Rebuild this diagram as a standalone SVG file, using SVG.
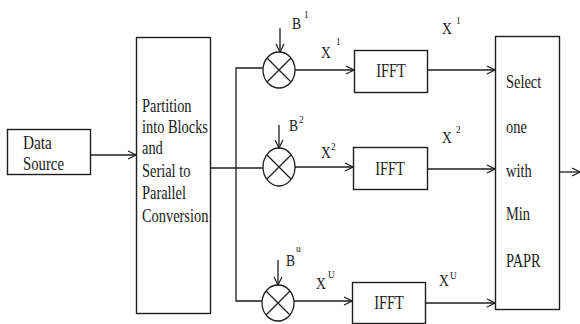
<svg xmlns="http://www.w3.org/2000/svg" width="580" height="324" viewBox="0 0 580 324">
<style>
.box{fill:#fff;stroke:#1e1e1e;stroke-width:1.4}
.ln{fill:none;stroke:#1e1e1e;stroke-width:1.3}
.t{font-family:"Liberation Serif","Times New Roman",serif;font-size:18px;fill:#1a1a1a}
.s{font-family:"Liberation Serif","Times New Roman",serif;font-size:11px;fill:#1a1a1a}
.l{font-family:"Liberation Serif","Times New Roman",serif;font-size:16px;fill:#1a1a1a}
</style>
<defs>
<marker id="a" markerWidth="10" markerHeight="10" refX="9" refY="5" orient="auto" markerUnits="userSpaceOnUse">
<path d="M1,1 L9,5 L1,9" fill="none" stroke="#1e1e1e" stroke-width="1.2"/>
</marker>
</defs>
<rect width="580" height="324" fill="#fff"/>

<g id="connectors">
<line class="ln" x1="91" y1="155" x2="136" y2="155" marker-end="url(#a)"/>
<line class="ln" x1="210" y1="168" x2="263" y2="168"/>
<polyline class="ln" points="263,68 236,68 236,301 262,301"/>
<line class="ln" x1="280" y1="28" x2="280" y2="52" marker-end="url(#a)"/>
<line class="ln" x1="279" y1="125" x2="279" y2="148" marker-end="url(#a)"/>
<line class="ln" x1="278" y1="260" x2="278" y2="285" marker-end="url(#a)"/>
<line class="ln" x1="295" y1="70" x2="354" y2="70" marker-end="url(#a)"/>
<line class="ln" x1="295" y1="167" x2="353" y2="167" marker-end="url(#a)"/>
<line class="ln" x1="294" y1="301" x2="352" y2="301" marker-end="url(#a)"/>
<line class="ln" x1="427" y1="70" x2="495" y2="70" marker-end="url(#a)"/>
<line class="ln" x1="427" y1="169" x2="495" y2="169" marker-end="url(#a)"/>
<line class="ln" x1="425" y1="303" x2="495" y2="303" marker-end="url(#a)"/>
<line class="ln" x1="559" y1="172" x2="580" y2="172" marker-end="url(#a)"/>
</g>

<g id="data-source">
<rect class="box" x="7.5" y="129.5" width="83" height="45"/>
<text class="t" transform="translate(23 149) scale(0.85 1)">Data</text>
<text class="t" transform="translate(23 170) scale(0.82 1)">Source</text>
</g>

<g id="partition">
<rect class="box" x="136.5" y="37.5" width="74" height="276"/>
<text class="t" transform="translate(142 112) scale(0.8 1)">Partition</text>
<text class="t" transform="translate(142 133) scale(0.8 1)">into Blocks</text>
<text class="t" transform="translate(142 154) scale(0.8 1)">and</text>
<text class="t" transform="translate(142 177) scale(0.8 1)">Serial to</text>
<text class="t" transform="translate(142 199) scale(0.8 1)">Parallel</text>
<text class="t" transform="translate(142 222) scale(0.8 1)">Conversion</text>
</g>

<g id="mult1">
<ellipse class="ln" cx="279" cy="70" rx="16" ry="18"/>
<path class="ln" d="M267,58 L291,82 M291,58 L267,82"/>
<text class="l" transform="translate(292 29) scale(0.85 1)">B</text>
<text class="s" transform="translate(304 18) scale(0.85 1)">1</text>
<text class="l" transform="translate(321 58) scale(0.85 1)">X</text>
<text class="s" transform="translate(336 45) scale(0.85 1)">1</text>
</g>

<g id="mult2">
<ellipse class="ln" cx="279" cy="167" rx="16" ry="19"/>
<path class="ln" d="M267,155 L291,179 M291,155 L267,179"/>
<text class="l" transform="translate(289 131) scale(0.85 1)">B</text>
<text class="s" transform="translate(299 123) scale(0.85 1)">2</text>
<text class="l" transform="translate(321 158) scale(0.85 1)">X</text>
<text class="s" transform="translate(331 150) scale(0.85 1)">2</text>
</g>

<g id="multu">
<ellipse class="ln" cx="278" cy="303" rx="16" ry="18"/>
<path class="ln" d="M266,291 L290,315 M290,291 L266,315"/>
<text class="l" transform="translate(286 266) scale(0.85 1)">B</text>
<text class="s" transform="translate(296 252) scale(0.85 1)">u</text>
<text class="l" transform="translate(316 289) scale(0.85 1)">X</text>
<text class="s" transform="translate(328 278) scale(0.85 1)">U</text>
</g>

<g id="ifft1">
<rect class="box" x="354.5" y="50.5" width="73" height="42"/>
<text class="t" text-anchor="middle" transform="translate(391 77) scale(0.8 1)">IFFT</text>
<text class="l" transform="translate(442 34) scale(0.85 1)">X</text>
<text class="s" transform="translate(456 24) scale(0.85 1)">1</text>
</g>

<g id="ifft2">
<rect class="box" x="353.5" y="147.5" width="74" height="42"/>
<text class="t" text-anchor="middle" transform="translate(390 175) scale(0.8 1)">IFFT</text>
<text class="l" transform="translate(442 143) scale(0.85 1)">X</text>
<text class="s" transform="translate(456 133) scale(0.85 1)">2</text>
</g>

<g id="ifftu">
<rect class="box" x="352.5" y="282.5" width="73" height="41"/>
<text class="t" text-anchor="middle" transform="translate(389 309) scale(0.8 1)">IFFT</text>
<text class="l" transform="translate(439 286) scale(0.85 1)">X</text>
<text class="s" transform="translate(450 279) scale(0.85 1)">U</text>
</g>

<g id="select">
<rect class="box" x="495.5" y="36.5" width="64" height="273"/>
<text class="t" transform="translate(506 88) scale(0.8 1)">Select</text>
<text class="t" transform="translate(506 133) scale(0.8 1)">one</text>
<text class="t" transform="translate(506 177) scale(0.8 1)">with</text>
<text class="t" transform="translate(506 220) scale(0.8 1)">Min</text>
<text class="t" transform="translate(506 267) scale(0.8 1)">PAPR</text>
</g>
</svg>
